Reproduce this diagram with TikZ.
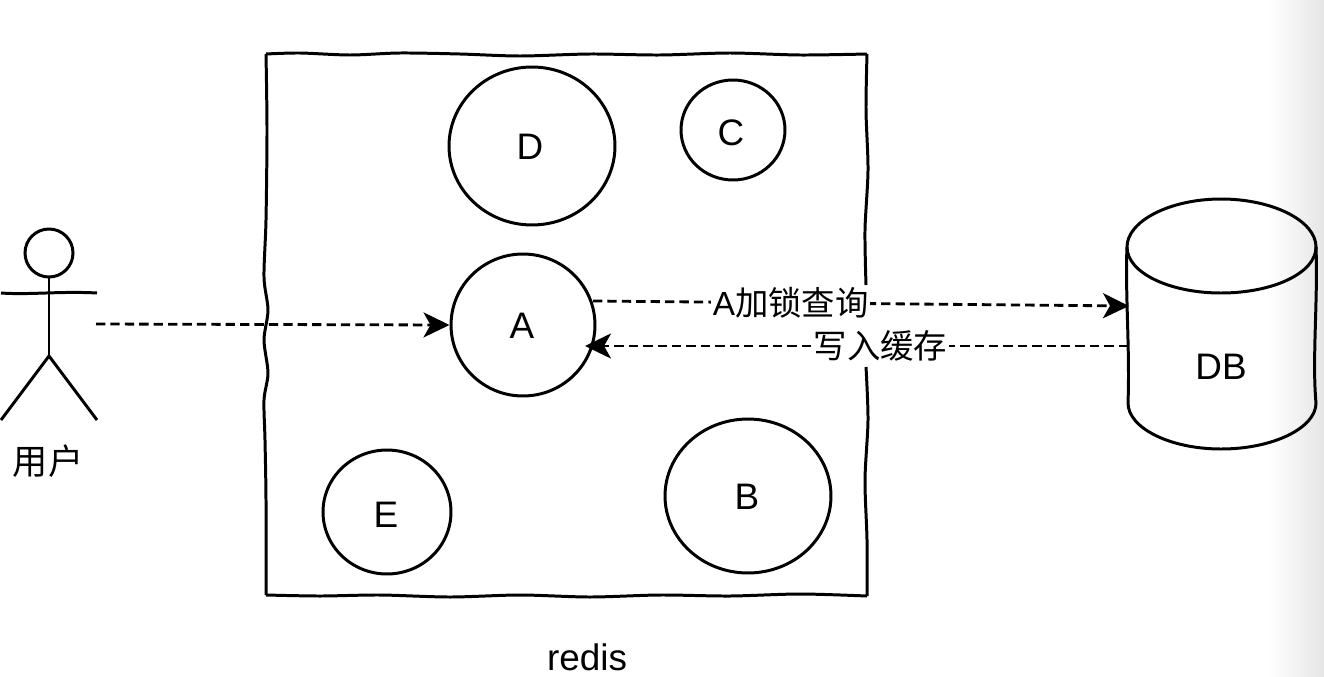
\documentclass[tikz,border=0pt]{standalone}
\usepackage{fontspec}
\setmainfont{Liberation Sans}
\newfontfamily\cjk{Noto Sans CJK SC}
\usetikzlibrary{arrows.meta,shapes.geometric}

\tikzset{
  keynode/.style={draw,ellipse,inner sep=0pt,line width=1.7pt},
  plainlabel/.style={inner sep=0pt,font=\fontsize{21}{25}\selectfont},
  arrowlabel/.style={fill=white,inner sep=1pt,font=\fontsize{19}{23}\selectfont},
  dashline/.style={line width=1.6pt,dash pattern=on 5.3pt off 2.9pt}
}

\begin{document}
\begin{tikzpicture}[x=0.02cm,y=-0.02cm,line width=1.7pt,>={Stealth[length=5.2mm,width=5mm,inset=1.4mm]}]
  \useasboundingbox (0,0) rectangle (1324,676);
  % sombra del borde derecho
  \shade[left color=white,right color=black!10] (1268,0) rectangle (1324,676);
  % recinto redis
  \draw plot[smooth] coordinates {(266,54) (300,53) (350,55) (400,53) (460,54) (520,56) (590,54) (660,55) (730,53) (800,55) (867,54)};
  \draw plot[smooth] coordinates {(867,54) (866,110) (868,170) (865,230) (866,285)};
  \draw plot[smooth] coordinates {(866,367) (868,420) (865,480) (867,540) (867,596)};
  \draw plot[smooth] coordinates {(867,596) (800,594) (730,596) (660,595) (590,597) (520,595) (450,597) (380,595) (320,596) (266,595)};
  \draw plot[smooth] coordinates {(266,595) (266,500) (265,440) (264,400) (268,373) (264,340) (268,310) (264,277) (266,220) (267,130) (266,54)};
  \node[plainlabel] (redis) at (587,657) {redis};
  % nodos
  \node[keynode,minimum width=3.32cm,minimum height=3.16cm] (D) at (532,146) {};
  \node[plainlabel] (Dtext) at (530,147) {D};
  \node[keynode,minimum width=2.08cm,minimum height=2cm] (C) at (733,130) {};
  \node[plainlabel] (Ctext) at (731,133) {C};
  \node[keynode,minimum width=2.88cm,minimum height=2.84cm] (A) at (523,325) {};
  \node[plainlabel] (Atext) at (522,326) {A};
  \node[keynode,minimum width=2.56cm,minimum height=2.48cm] (E) at (387,512) {};
  \node[plainlabel] (Etext) at (386,515) {E};
  \node[keynode,minimum width=3.32cm,minimum height=3.08cm] (B) at (748,496) {};
  \node[plainlabel] (Btext) at (747,497) {B};
  % usuario
  \draw (49,253) circle[x radius=24,y radius=24];
  \draw (1,293) .. controls (30,295) and (60,291) .. (97,293);
  \draw (49,277) -- (49,356);
  \draw (1,420) -- (49,356) -- (97,420);
  \node[plainlabel,font=\fontsize{20}{24}\selectfont\cjk] (user) at (48,461) {用户};
  \coordinate (hand) at (96,324);
  % DB
  \draw (1127,247) .. controls (1127,221) and (1170,199) .. (1221,199) .. controls (1273,199) and (1316,221) .. (1316,247)
     .. controls (1316,273) and (1273,293) .. (1221,293) .. controls (1170,293) and (1127,273) .. (1127,247);
  \draw (1127,247) .. controls (1125,290) and (1130,350) .. (1128,403)
     .. controls (1128,428) and (1170,449) .. (1221,449) .. controls (1273,449) and (1316,428) .. (1316,403)
     .. controls (1312,360) and (1318,300) .. (1316,247);
  \node[plainlabel] (DB) at (1221,367) {DB};
  \coordinate (dbin) at (1129,306);
  \coordinate (dbout) at (1128,346);
  \coordinate (aout) at (593,301);
  \coordinate (ain) at (585,346);
  % flechas
  \draw[->,dashline] (hand) -- (A.west);
  \draw[->,dashline] (aout) -- node[arrowlabel,pos=0.369] (lock) {A\cjk 加锁查询} (dbin);
  \draw[->,dashline] (dbout) -- node[arrowlabel,pos=0.456] (write) {\cjk 写入缓存} (ain);
\end{tikzpicture}
\end{document}
